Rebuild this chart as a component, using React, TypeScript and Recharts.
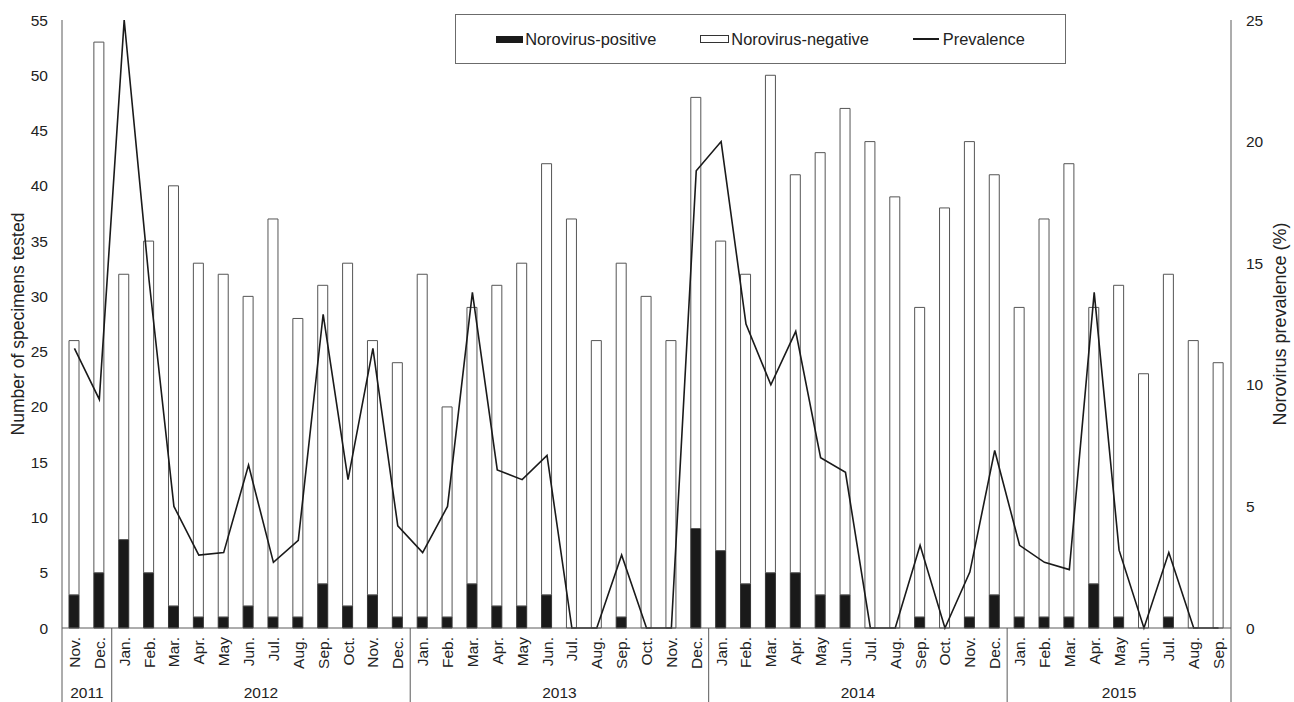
import React from "react";
import {
  ComposedChart,
  Bar,
  Line,
  XAxis,
  YAxis,
  Legend,
} from "recharts";

const MONTHS = [
  "Nov.", "Dec.",
  "Jan.", "Feb.", "Mar.", "Apr.", "May", "Jun.", "Jul.", "Aug.", "Sep.", "Oct.", "Nov.", "Dec.",
  "Jan.", "Feb.", "Mar.", "Apr.", "May", "Jun.", "Jul.", "Aug.", "Sep.", "Oct.", "Nov.", "Dec.",
  "Jan.", "Feb.", "Mar.", "Apr.", "May", "Jun.", "Jul.", "Aug.", "Sep.", "Oct.", "Nov.", "Dec.",
  "Jan.", "Feb.", "Mar.", "Apr.", "May", "Jun.", "Jul.", "Aug.", "Sep.",
];

const YEARS = [
  "2011", "2011",
  "2012", "2012", "2012", "2012", "2012", "2012", "2012", "2012", "2012", "2012", "2012", "2012",
  "2013", "2013", "2013", "2013", "2013", "2013", "2013", "2013", "2013", "2013", "2013", "2013",
  "2014", "2014", "2014", "2014", "2014", "2014", "2014", "2014", "2014", "2014", "2014", "2014",
  "2015", "2015", "2015", "2015", "2015", "2015", "2015", "2015", "2015",
];

const POSITIVE = [
  3, 5,
  8, 5, 2, 1, 1, 2, 1, 1, 4, 2, 3, 1,
  1, 1, 4, 2, 2, 3, 0, 0, 1, 0, 0, 9,
  7, 4, 5, 5, 3, 3, 0, 0, 1, 0, 1, 3,
  1, 1, 1, 4, 1, 0, 1, 0, 0,
];

const NEGATIVE = [
  23, 48,
  24, 30, 38, 32, 31, 28, 36, 27, 27, 31, 23, 23,
  31, 19, 25, 29, 31, 39, 37, 26, 32, 30, 26, 39,
  28, 28, 45, 36, 40, 44, 44, 39, 28, 38, 43, 38,
  28, 36, 41, 25, 30, 23, 31, 26, 24,
];

const PREVALENCE = [
  11.5, 9.4,
  25.0, 14.3, 5.0, 3.0, 3.1, 6.7, 2.7, 3.6, 12.9, 6.1, 11.5, 4.2,
  3.1, 5.0, 13.8, 6.5, 6.1, 7.1, 0, 0, 3.0, 0, 0, 18.8,
  20.0, 12.5, 10.0, 12.2, 7.0, 6.4, 0, 0, 3.4, 0, 2.3, 7.3,
  3.4, 2.7, 2.4, 13.8, 3.2, 0, 3.1, 0, 0,
];

const LEFT_TICKS = [0, 5, 10, 15, 20, 25, 30, 35, 40, 45, 50, 55];
const RIGHT_TICKS = [0, 5, 10, 15, 20, 25];

const FONT = "'Liberation Sans', Arial, sans-serif";
const TEXT = "#222";
const LINE_GRAY = "#5a5a5a";

const W = 1294;
const H = 702;
const PLOT_LEFT = 62;
const PLOT_RIGHT = 1231;
const PLOT_BOTTOM = 628;
const BAND = (PLOT_RIGHT - PLOT_LEFT) / MONTHS.length;

const data = MONTHS.map((m, i) => ({
  key: `${YEARS[i]}-${i}`,
  month: m,
  positive: POSITIVE[i],
  negative: NEGATIVE[i],
  prevalence: PREVALENCE[i],
}));

function MonthTick(props: any) {
  const { x, index } = props;
  const month = MONTHS[index];
  const year = YEARS[index];
  const isFirst = index === 0 || YEARS[index - 1] !== year;
  const isLast = index === MONTHS.length - 1;
  let count = 0;
  if (isFirst) {
    for (let j = index; j < YEARS.length && YEARS[j] === year; j++) count++;
  }
  const left = x - BAND / 2;
  return (
    <g>
      <text
        x={x}
        y={637}
        transform={`rotate(-90, ${x}, 637)`}
        textAnchor="end"
        dominantBaseline="central"
        fontSize={15.5}
        fontFamily={FONT}
        fill={TEXT}
      >
        {month}
      </text>
      {isFirst && (
        <line x1={left} x2={left} y1={PLOT_BOTTOM} y2={H} stroke={LINE_GRAY} strokeWidth={1} />
      )}
      {isLast && (
        <line x1={x + BAND / 2} x2={x + BAND / 2} y1={PLOT_BOTTOM} y2={H} stroke={LINE_GRAY} strokeWidth={1} />
      )}
      {isFirst && (
        <text
          x={left + (count * BAND) / 2}
          y={692}
          textAnchor="middle"
          dominantBaseline="central"
          fontSize={15.5}
          fontFamily={FONT}
          fill={TEXT}
        >
          {year}
        </text>
      )}
    </g>
  );
}

function LegendBox() {
  const item = { display: "flex", alignItems: "center" } as const;
  return (
    <div
      style={{
        boxSizing: "border-box",
        width: 611,
        height: 50,
        border: "1px solid #6b6b6b",
        background: "#fff",
        display: "flex",
        alignItems: "center",
        justifyContent: "center",
        gap: 44,
        fontFamily: FONT,
        fontSize: 16.4,
        color: TEXT,
      }}
    >
      <span style={item}>
        <span style={{ width: 27, height: 7, background: "#1a1a1a", marginRight: 2 }} />
        Norovirus-positive
      </span>
      <span style={item}>
        <span
          style={{
            boxSizing: "border-box",
            width: 29,
            height: 8,
            border: "1px solid #333",
            background: "#fff",
            marginRight: 2,
          }}
        />
        Norovirus-negative
      </span>
      <span style={item}>
        <span style={{ width: 26, height: 2, background: "#1a1a1a", marginRight: 4 }} />
        Prevalence
      </span>
    </div>
  );
}

export default function App() {
  return (
    <div style={{ position: "absolute", left: 0, top: 0, width: W, height: H, background: "#fff" }}>
      <ComposedChart
        width={W}
        height={H}
        data={data}
        margin={{ top: 20, right: 0, bottom: 0, left: 0 }}
      >
        <XAxis
          dataKey="key"
          height={H - PLOT_BOTTOM}
          interval={0}
          tickLine={false}
          axisLine={{ stroke: LINE_GRAY }}
          tick={<MonthTick />}
        />
        <YAxis
          yAxisId="left"
          width={PLOT_LEFT}
          domain={[0, 55]}
          ticks={LEFT_TICKS}
          interval={0}
          tickLine={false}
          tickSize={0}
          tickMargin={14}
          axisLine={{ stroke: LINE_GRAY }}
          tick={{ fontSize: 15.5, fontFamily: FONT, fill: TEXT }}
          label={{
            value: "Number of specimens tested",
            angle: -90,
            position: "center",
            dx: -13,
            style: { fontSize: 17.5, fontFamily: FONT, fill: TEXT },
          }}
        />
        <YAxis
          yAxisId="right"
          orientation="right"
          width={W - PLOT_RIGHT}
          domain={[0, 25]}
          ticks={RIGHT_TICKS}
          interval={0}
          tickLine={false}
          tickSize={0}
          tickMargin={15}
          axisLine={{ stroke: LINE_GRAY }}
          tick={{ fontSize: 15.5, fontFamily: FONT, fill: TEXT }}
          label={{
            value: "Norovirus prevalence (%)",
            angle: -90,
            position: "center",
            dx: 17,
            style: { fontSize: 18, fontFamily: FONT, fill: TEXT },
          }}
        />
        <Legend
          layout="horizontal"
          verticalAlign="middle"
          align="center"
          wrapperStyle={{ top: 14, left: 455, width: 611, height: 50 }}
          content={() => <LegendBox />}
        />
        <Bar
          yAxisId="left"
          dataKey="positive"
          stackId="a"
          barSize={10}
          fill="#1a1a1a"
          stroke="#333"
          strokeWidth={1}
          isAnimationActive={false}
        />
        <Bar
          yAxisId="left"
          dataKey="negative"
          stackId="a"
          barSize={10}
          fill="#fff"
          stroke="#555"
          strokeWidth={1}
          isAnimationActive={false}
        />
        <Line
          yAxisId="right"
          type="linear"
          dataKey="prevalence"
          stroke="#1a1a1a"
          strokeWidth={1.6}
          dot={false}
          activeDot={false}
          isAnimationActive={false}
        />
      </ComposedChart>
    </div>
  );
}
